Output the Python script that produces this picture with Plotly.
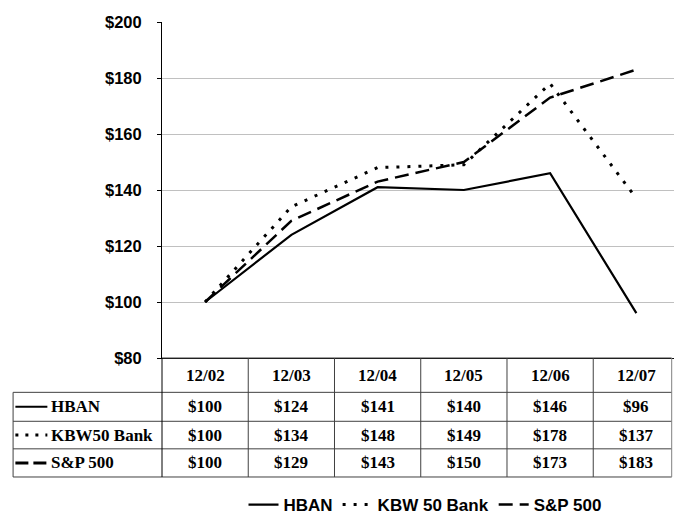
import plotly.graph_objects as go

# ---- data ----
periods = ["12/02", "12/03", "12/04", "12/05", "12/06", "12/07"]
hban = [100, 124, 141, 140, 146, 96]
kbw50 = [100, 134, 148, 149, 178, 137]
sp500 = [100, 129, 143, 150, 173, 183]
legend_names = ["HBAN", "KBW 50 Bank", "S&P 500"]
table_labels = ["HBAN", "KBW50 Bank", "S&P 500"]
y_ticks = [80, 100, 120, 140, 160, 180, 200]

# ---- geometry (pixels of the 674x515 page) ----
W, H = 674, 515
PL, PR, PT, PB = 161.7, 674.0, 21.7, 358.3      # plot area
CAT_W = 86.3
PW, PH = PR - PL, PB - PT


def px_x(px):
    return (px - PL) / PW


def px_y(py):
    return (PB - py) / PH


series = [hban, kbw50, sp500]
styles = [
    dict(color="black", width=2.2, dash="solid"),
    dict(color="black", width=3, dash="3px,8px"),
    dict(color="black", width=2.5, dash="14px,7px"),
]

fig = go.Figure()
for name, vals, st in zip(legend_names, series, styles):
    fig.add_trace(go.Scatter(x=periods, y=vals, mode="lines", name=name,
                             line=st, hoverinfo="x+y+name"))

# ---- table ----
grid_col = "#404040"
row_lines_px = [392.7, 421.7, 449.3, 477.5]
row_centers_px = [407.2, 435.5, 463.4]
header_center_px = 375.5
shapes = []
for py in row_lines_px:
    shapes.append(dict(type="line", xref="paper", yref="paper",
                       x0=px_x(12.7), x1=px_x(671.7), y0=px_y(py), y1=px_y(py),
                       line=dict(color=grid_col, width=1)))
shapes.append(dict(type="line", xref="paper", yref="paper",
                   x0=px_x(PL), x1=px_x(671.7), y0=0, y1=0,
                   line=dict(color=grid_col, width=1)))
shapes.append(dict(type="line", xref="paper", yref="paper",
                   x0=px_x(12.7), x1=px_x(12.7), y0=px_y(392.7), y1=px_y(477.5),
                   line=dict(color=grid_col, width=1)))
shapes.append(dict(type="line", xref="paper", yref="paper",
                   x0=0, x1=0, y0=0, y1=px_y(477.5),
                   line=dict(color="black", width=1)))
for k in range(1, len(periods)):
    xb = px_x(PL + k * CAT_W)
    shapes.append(dict(type="line", xref="paper", yref="paper",
                       x0=xb, x1=xb, y0=0, y1=px_y(477.5),
                       line=dict(color=grid_col, width=1)))
shapes.append(dict(type="line", xref="paper", yref="paper",
                   x0=px_x(671.7), x1=px_x(671.7), y0=0, y1=px_y(477.5),
                   line=dict(color="#808080", width=1)))
sample_dash = ["solid", "3px,7px", "13px,5px"]
sample_w = [2, 3, 3]
for cy, d, w in zip(row_centers_px, sample_dash, sample_w):
    shapes.append(dict(type="line", xref="paper", yref="paper",
                       x0=px_x(15), x1=px_x(47), y0=px_y(cy), y1=px_y(cy),
                       line=dict(color="black", width=w, dash=d)))

serif = "Liberation Serif, Times New Roman, serif"
tfont = dict(family=serif, size=17, color="black", weight="bold")
annotations = []
for p in periods:
    annotations.append(dict(x=p, xref="x", y=px_y(header_center_px), yref="paper",
                            text=p, showarrow=False, font=tfont,
                            xanchor="center", yanchor="middle"))
for lab, vals, cy in zip(table_labels, series, row_centers_px):
    annotations.append(dict(x=px_x(49), xref="paper", y=px_y(cy), yref="paper",
                            text=lab, showarrow=False, font=tfont,
                            xanchor="left", yanchor="middle"))
    for p, v in zip(periods, vals):
        annotations.append(dict(x=p, xref="x", y=px_y(cy), yref="paper",
                                text=f"${v}", showarrow=False, font=tfont,
                                xanchor="center", yanchor="middle"))

fig.update_layout(
    width=W, height=H,
    margin=dict(l=PL, r=W - PR, t=PT, b=H - PB, pad=0, autoexpand=False),
    paper_bgcolor="white", plot_bgcolor="white",
    showlegend=True,
    legend=dict(orientation="h", xref="container", yref="container",
                x=425 / W, xanchor="center", y=(H - 505) / H, yanchor="middle",
                font=dict(family="Liberation Sans", size=17, color="black", weight="bold"),
                itemwidth=30, tracegroupgap=0, bgcolor="rgba(0,0,0,0)"),
    xaxis=dict(type="category", categoryorder="array", categoryarray=periods,
               range=[-0.5, -0.5 + PW / CAT_W], showgrid=False, zeroline=False,
               showline=True, linecolor="black", linewidth=1,
               ticks="", showticklabels=False, fixedrange=True),
    yaxis=dict(range=[80, 200], tickvals=y_ticks, ticktext=[f"${v}" for v in y_ticks],
               showgrid=True, gridcolor="#c0c0c0", gridwidth=1, zeroline=False,
               showline=True, linecolor="black", linewidth=1,
               ticks="outside", ticklen=4, tickcolor="black",
               ticklabelstandoff=12,
               tickfont=dict(family="Liberation Sans", size=16.5, color="black", weight="bold"),
               fixedrange=True),
    shapes=shapes, annotations=annotations,
)

fig.write_html("out.html", config={"displayModeBar": False},
               post_script="document.body.style.margin='0px';document.body.style.overflow='hidden';")
